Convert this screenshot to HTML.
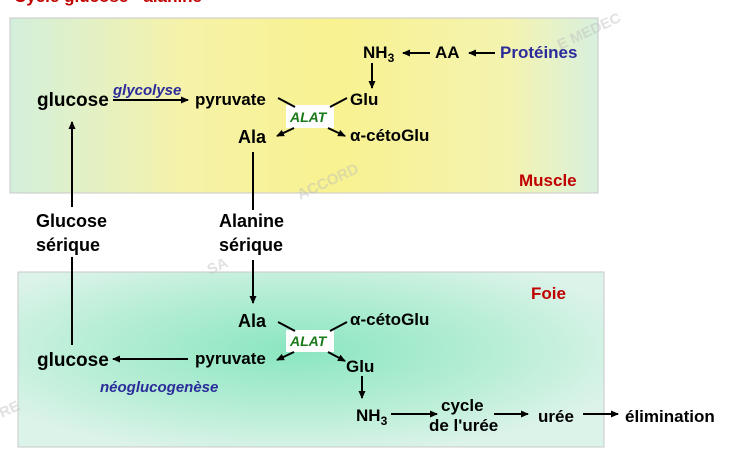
<!DOCTYPE html>
<html><head><meta charset="utf-8"><style>
html,body{margin:0;padding:0;background:#fff;width:746px;height:458px;overflow:hidden}
svg{display:block;font-family:"Liberation Sans",Arial,sans-serif;font-weight:bold}
</style></head><body>
<svg width="746" height="458" viewBox="0 0 746 458" xmlns="http://www.w3.org/2000/svg">
<defs>
<linearGradient id="gm" x1="0" x2="1" y1="0" y2="0">
<stop offset="0" stop-color="#d3efdc"/><stop offset="0.3" stop-color="#f6f2a8"/><stop offset="0.55" stop-color="#f8f290"/><stop offset="0.85" stop-color="#f4f3b0"/><stop offset="1" stop-color="#d8f0de"/>
</linearGradient>
<radialGradient id="gf" cx="0.47" cy="0.45" r="0.6">
<stop offset="0" stop-color="#8ae6c0"/><stop offset="0.6" stop-color="#b9eed6"/><stop offset="1" stop-color="#dcf3ea"/>
</radialGradient>
<marker id="a" markerWidth="8" markerHeight="8" refX="7" refY="4" orient="auto" markerUnits="userSpaceOnUse"><path d="M0,0.5 L8,4 L0,7.5 Z" fill="#000"/></marker>
</defs>
<text x="14" y="2" fill="#c00000" font-size="17">Cycle glucose - alanine</text>
<rect x="10" y="18" width="588" height="175" fill="url(#gm)" stroke="#c8c8c8" stroke-width="1"/>
<rect x="18" y="272" width="586" height="175" fill="url(#gf)" stroke="#c8c8c8" stroke-width="1"/>
<g fill="#000" font-size="17">
<text x="37" y="106" font-size="19">glucose</text>
<text x="195" y="105">pyruvate</text>
<text x="350" y="105">Glu</text>
<text x="238" y="143" font-size="18">Ala</text>
<text x="350" y="141">α-cétoGlu</text>
<text x="363" y="58">NH<tspan font-size="12" dy="4">3</tspan></text>
<text x="435" y="58">AA</text>
<text x="36" y="227" font-size="18">Glucose</text>
<text x="36" y="251" font-size="18">sérique</text>
<text x="219" y="227" font-size="18">Alanine</text>
<text x="219" y="251" font-size="18">sérique</text>
<text x="238" y="327" font-size="18">Ala</text>
<text x="350" y="325">α-cétoGlu</text>
<text x="195" y="364">pyruvate</text>
<text x="37" y="366" font-size="19">glucose</text>
<text x="346" y="372">Glu</text>
<text x="356" y="421">NH<tspan font-size="12" dy="4">3</tspan></text>
<text x="441" y="411">cycle</text>
<text x="429" y="431">de l'urée</text>
<text x="538" y="422">urée</text>
<text x="625" y="422">élimination</text>
</g>
<text x="500" y="58" fill="#2b2b9a" font-size="17">Protéines</text>
<text x="519" y="186" fill="#c00000" font-size="17">Muscle</text>
<text x="531" y="299" fill="#c00000" font-size="17">Foie</text>
<text x="113" y="95" fill="#2b2b9a" font-size="15" font-style="italic">glycolyse</text>
<text x="100" y="392" fill="#2b2b9a" font-size="15" font-style="italic">néoglucogenèse</text>
<rect x="286" y="105" width="48" height="23" fill="#fff"/>
<text x="290" y="122" fill="#1a7a1a" font-size="14" font-style="italic">ALAT</text>
<rect x="286" y="330" width="48" height="22" fill="#fff"/>
<text x="290" y="346" fill="#1a7a1a" font-size="14" font-style="italic">ALAT</text>
<g stroke="#000" stroke-width="2" fill="none">
<line x1="113" y1="100" x2="188" y2="100" marker-end="url(#a)"/>
<line x1="430" y1="53" x2="403" y2="53" marker-end="url(#a)"/>
<line x1="495" y1="53" x2="469" y2="53" marker-end="url(#a)"/>
<line x1="372" y1="63" x2="372" y2="88" marker-end="url(#a)"/>
<line x1="278" y1="98" x2="295" y2="107"/>
<line x1="347" y1="98" x2="330" y2="107"/>
<line x1="294" y1="128" x2="277" y2="136" marker-end="url(#a)"/>
<line x1="328" y1="128" x2="345" y2="136" marker-end="url(#a)"/>
<line x1="72" y1="345" x2="72" y2="122" marker-end="url(#a)" stroke-dasharray="88,50,200"/>
<line x1="253" y1="152" x2="253" y2="210"/>
<line x1="253" y1="260" x2="253" y2="303" marker-end="url(#a)"/>
<line x1="278" y1="322" x2="295" y2="331"/>
<line x1="347" y1="322" x2="330" y2="331"/>
<line x1="294" y1="352" x2="277" y2="360" marker-end="url(#a)"/>
<line x1="328" y1="352" x2="345" y2="361" marker-end="url(#a)"/>
<line x1="188" y1="359" x2="113" y2="359" marker-end="url(#a)"/>
<line x1="362" y1="376" x2="362" y2="398" marker-end="url(#a)"/>
<line x1="391" y1="414" x2="437" y2="414" marker-end="url(#a)"/>
<line x1="494" y1="414" x2="528" y2="414" marker-end="url(#a)"/>
<line x1="583" y1="414" x2="618" y2="414" marker-end="url(#a)"/>
</g>
<g fill="#bbb" font-size="15" font-weight="bold" opacity="0.45">
<text x="560" y="50" transform="rotate(-25 560 50)">E MEDEC</text>
<text x="300" y="200" transform="rotate(-25 300 200)">ACCORD</text>
<text x="210" y="275" transform="rotate(-25 210 275)">SA</text>
<text x="2" y="418" transform="rotate(-25 2 418)">RE</text>
</g>
</svg>
</body></html>
